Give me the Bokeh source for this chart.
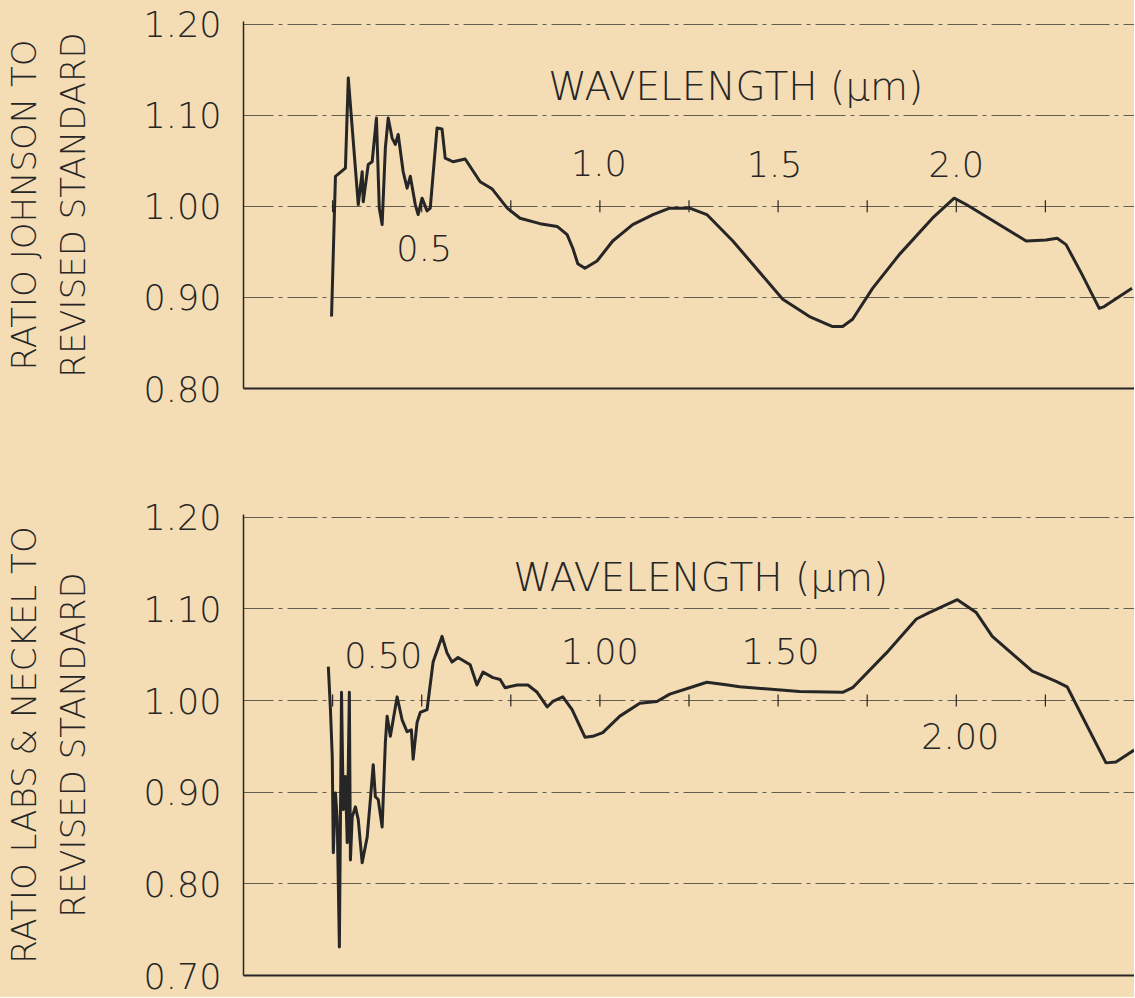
from math import pi
from bokeh.plotting import figure
from bokeh.layouts import column
from bokeh.models import FixedTicker, PrintfTickFormatter
from bokeh.core.properties import value
from bokeh.embed import file_html
from bokeh.resources import INLINE

# ---------------- data ----------------
johnson_wl = [0.247, 0.258, 0.286, 0.294, 0.322, 0.333, 0.336, 0.350, 0.361, 0.373,
              0.381, 0.389, 0.398, 0.406, 0.417, 0.426, 0.434, 0.448, 0.459, 0.468,
              0.482, 0.490, 0.501, 0.515, 0.524, 0.543, 0.557, 0.566, 0.588, 0.622,
              0.664, 0.698, 0.740, 0.776, 0.832, 0.880, 0.908, 0.924, 0.938, 0.958,
              0.992, 1.036, 1.092, 1.149, 1.196, 1.252, 1.300, 1.373, 1.513, 1.588,
              1.653, 1.681, 1.709, 1.765, 1.840, 1.933, 1.994, 2.028, 2.120, 2.196,
              2.252, 2.283, 2.308, 2.353, 2.401, 2.415, 2.493]
johnson_ratio = [0.879, 1.033, 1.042, 1.141, 1.002, 1.038, 1.005, 1.046, 1.049, 1.097,
                 0.998, 0.980, 1.064, 1.097, 1.075, 1.068, 1.079, 1.038, 1.020, 1.033,
                 1.002, 0.991, 1.009, 0.995, 0.998, 1.086, 1.085, 1.053, 1.049, 1.052,
                 1.027, 1.019, 0.998, 0.987, 0.981, 0.978, 0.969, 0.954, 0.937, 0.932,
                 0.940, 0.962, 0.980, 0.991, 0.998, 0.998, 0.991, 0.962, 0.898, 0.879,
                 0.868, 0.868, 0.876, 0.910, 0.947, 0.987, 1.009, 1.002, 0.980, 0.962,
                 0.963, 0.965, 0.958, 0.925, 0.888, 0.890, 0.910]

ln_wl = [0.238, 0.244, 0.249, 0.252, 0.258, 0.263, 0.269, 0.275, 0.280, 0.286,
         0.291, 0.297, 0.300, 0.305, 0.314, 0.322, 0.333, 0.347, 0.356, 0.364,
         0.370, 0.378, 0.389, 0.398, 0.403, 0.412, 0.431, 0.445, 0.459, 0.471,
         0.476, 0.487, 0.496, 0.515, 0.532, 0.557, 0.571, 0.585, 0.602, 0.636,
         0.655, 0.672, 0.700, 0.720, 0.734, 0.768, 0.798, 0.824, 0.852, 0.868,
         0.896, 0.922, 0.958, 0.980, 1.008, 1.056, 1.112, 1.160, 1.196, 1.252,
         1.300, 1.359, 1.392, 1.560, 1.681, 1.709, 1.804, 1.888, 1.924, 2.003,
         2.056, 2.101, 2.213, 2.280, 2.311, 2.420, 2.448, 2.499]
ln_ratio = [1.037, 0.990, 0.939, 0.834, 0.899, 0.870, 0.731, 1.009, 0.881, 0.917,
            0.845, 1.009, 0.826, 0.873, 0.884, 0.870, 0.823, 0.851, 0.892, 0.930,
            0.895, 0.892, 0.862, 0.954, 0.983, 0.961, 1.004, 0.979, 0.966, 0.968,
            0.936, 0.976, 0.987, 0.990, 1.042, 1.070, 1.052, 1.042, 1.047, 1.039,
            1.017, 1.031, 1.025, 1.023, 1.014, 1.017, 1.017, 1.009, 0.993, 0.999,
            1.004, 0.990, 0.960, 0.961, 0.965, 0.983, 0.997, 0.999, 1.007, 1.014,
            1.020, 1.017, 1.015, 1.010, 1.009, 1.014, 1.052, 1.089, 1.096, 1.110,
            1.096, 1.070, 1.032, 1.021, 1.015, 0.932, 0.933, 0.946]

wl_ticks = [0.25, 0.50, 0.75, 1.00, 1.25, 1.50, 1.75, 2.00, 2.25]

top_yticks = [0.80, 0.90, 1.00, 1.10, 1.20]
top_grid = [0.90, 1.00, 1.10, 1.20]
top_wl_labels = ["0.5", "1.0", "1.5", "2.0"]
top_wl_label_x = [0.507, 0.997, 1.490, 2.000]
top_wl_label_y = [0.954, 1.048, 1.046, 1.046]
top_ylabel = "RATIO JOHNSON TO\nREVISED STANDARD"

bot_yticks = [0.70, 0.80, 0.90, 1.00, 1.10, 1.20]
bot_grid = [0.80, 0.90, 1.00, 1.10, 1.20]
bot_wl_labels = ["0.50", "1.00", "1.50", "2.00"]
bot_wl_label_x = [0.392, 1.000, 1.507, 2.011]
bot_wl_label_y = [1.050, 1.054, 1.054, 0.961]
bot_ylabel = "RATIO LABS & NECKEL TO\nREVISED STANDARD"

x_title = "WAVELENGTH (\u03bcm)"

# ---------------- style ----------------
BG = "#f4dcb4"
INK = "#262626"
FONT = "'DejaVu Sans Light', 'DejaVu Sans'"


def panel(wl, ratio, yticks, grid, ylabel, lab_txt, lab_x, lab_y, title_x, title_y,
          frame_h, b_top, b_bottom):
    p = figure(frame_width=891, frame_height=frame_h,
               x_range=(0, 2.5), y_range=(yticks[0], yticks[-1] + 0.003),
               output_backend="svg", toolbar_location=None,
               min_border_left=240, min_border_right=0,
               min_border_top=b_top, min_border_bottom=b_bottom)
    p.background_fill_color = BG
    p.border_fill_color = BG
    p.outline_line_color = None

    ya = p.yaxis[0]
    ya.ticker = FixedTicker(ticks=yticks)
    ya.formatter = PrintfTickFormatter(format="%.2f")
    ya.major_label_text_font = FONT
    ya.major_label_text_font_size = "35px"
    ya.major_label_text_color = INK
    ya.major_label_standoff = 22
    ya.major_tick_in = 0
    ya.major_tick_out = 0
    ya.minor_tick_in = 0
    ya.minor_tick_out = 0
    ya.axis_line_color = INK
    ya.axis_line_width = 1.5
    ya.axis_label = ylabel
    ya.axis_label_text_font = FONT
    ya.axis_label_text_font_size = "34px"
    ya.axis_label_text_font_style = "normal"
    ya.axis_label_text_color = INK
    ya.axis_label_text_line_height = 1.22
    ya.axis_label_standoff = 48

    xa = p.xaxis[0]
    xa.ticker = FixedTicker(ticks=[])
    xa.major_label_text_font_size = "0px"
    xa.major_label_standoff = 0
    xa.major_tick_out = 0
    xa.major_tick_in = 0
    xa.minor_tick_out = 0
    xa.minor_tick_in = 0
    xa.axis_line_color = INK
    xa.axis_line_width = 2

    p.xgrid.visible = False
    p.ygrid.ticker = FixedTicker(ticks=grid)
    p.ygrid.grid_line_color = INK
    p.ygrid.grid_line_alpha = 0.7
    p.ygrid.grid_line_width = 1
    p.ygrid.grid_line_dash = "30 5 4 5"

    p.scatter(x=wl_ticks, y=[1.0] * len(wl_ticks), marker="dash", angle=pi / 2,
              size=12, line_color=INK, line_width=1.2)

    p.line(wl, ratio, line_color=INK, line_width=3, line_join="round")

    p.text(x=lab_x, y=lab_y, text=lab_txt, text_font=value(FONT),
           text_font_size="35px", text_color=INK,
           text_align="center", text_baseline="middle")
    p.text(x=[title_x], y=[title_y], text=[x_title], text_font=value(FONT),
           text_font_size="39px", text_color=INK,
           text_align="center", text_baseline="middle")
    return p


p1 = panel(johnson_wl, johnson_ratio, top_yticks, top_grid, top_ylabel,
           top_wl_labels, top_wl_label_x, top_wl_label_y, 1.381, 1.132,
           367, 21, 60)
p2 = panel(ln_wl, ln_ratio, bot_yticks, bot_grid, bot_ylabel,
           bot_wl_labels, bot_wl_label_x, bot_wl_label_y, 1.283, 1.134,
           461, 66, 22)

layout = column(p1, p2, spacing=0)
layout.styles = {"background-color": BG}

open("out.html", "w").write(file_html(layout, INLINE))
